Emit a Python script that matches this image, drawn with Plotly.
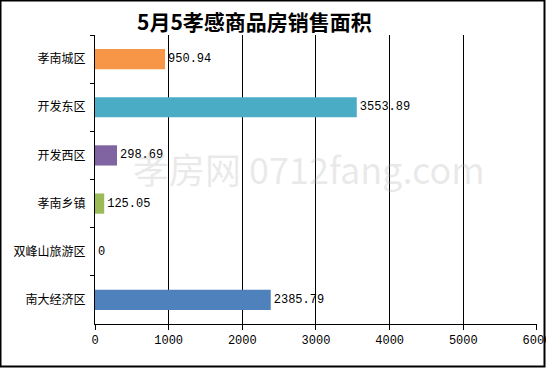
import plotly.graph_objects as go

categories = ["孝南城区", "开发东区", "开发西区", "孝南乡镇", "双峰山旅游区", "南大经济区"]
values = [950.94, 3553.89, 298.69, 125.05, 0, 2385.79]
value_labels = ["950.94", "3553.89", "298.69", "125.05", "0", "2385.79"]
colors = ["#F79646", "#4BACC6", "#8064A2", "#9BBB59", "#4F81BD", "#4F81BD"]
x_ticks = [0, 1000, 2000, 3000, 4000, 5000, 6000]
title_text = "5月5孝感商品房销售面积"
watermark = "孝房网 0712fang.com"

W, H = 546, 369
L, R, T, B = 95, 9, 35, 45
pw, ph = W - L - R, H - T - B

fig = go.Figure()
fig.add_trace(go.Bar(
    y=categories, x=values, orientation="h",
    marker=dict(color=colors, line=dict(width=0)),
    text=value_labels, textposition="outside", cliponaxis=False,
    textfont=dict(family="Liberation Mono", size=12, color="black"),
    width=0.42,
))

def px2paper_x(px):
    return (px - L) / pw

def px2paper_y(py):
    return (H - B - py) / ph

fig.update_layout(
    width=W, height=H,
    margin=dict(l=L, r=R, t=T, b=B, autoexpand=False),
    paper_bgcolor="white", plot_bgcolor="white",
    showlegend=False,
    bargap=0.58,
    xaxis=dict(
        range=[0, 6000.5], tickvals=x_ticks, ticktext=[str(v) for v in x_ticks],
        showgrid=True, gridcolor="black", gridwidth=1,
        showline=True, linecolor="black", linewidth=1,
        ticks="outside", ticklen=5, tickcolor="black",
        tickfont=dict(family="Liberation Mono", size=12, color="black"),
        ticklabeloverflow="allow",
        zeroline=False, fixedrange=True, automargin=False,
    ),
    yaxis=dict(
        autorange="reversed", type="category",
        tickson="boundaries", showgrid=False,
        showline=True, linecolor="black", linewidth=1,
        ticks="outside", ticklen=4, tickcolor="black",
        tickfont=dict(family="Noto Sans CJK SC", size=12, color="black"),
        ticklabelstandoff=6,
        fixedrange=True, automargin=False,
    ),
    annotations=[
        dict(text="<b>" + title_text + "</b>", xref="paper", yref="paper",
             x=px2paper_x(254), y=px2paper_y(21), xanchor="center", yanchor="middle",
             showarrow=False, font=dict(family="Noto Sans CJK SC", size=21, color="black")),
        dict(text=watermark, xref="paper", yref="paper",
             x=px2paper_x(131), y=px2paper_y(168), xanchor="left", yanchor="middle",
             showarrow=False, font=dict(family="Noto Sans CJK SC", size=36, color="rgba(170,170,170,0.25)")),
    ],
    shapes=[
        dict(type="rect", xref="paper", yref="paper",
             x0=px2paper_x(0.5), x1=px2paper_x(544.5), y0=px2paper_y(366.5), y1=px2paper_y(0.5),
             line=dict(color="black", width=2), fillcolor="rgba(0,0,0,0)", layer="above"),
    ],
)

fig.write_html(
    "out.html",
    config={"displayModeBar": False, "staticPlot": True},
    post_script="document.body.style.margin='0';document.body.style.overflow='hidden';",
)
